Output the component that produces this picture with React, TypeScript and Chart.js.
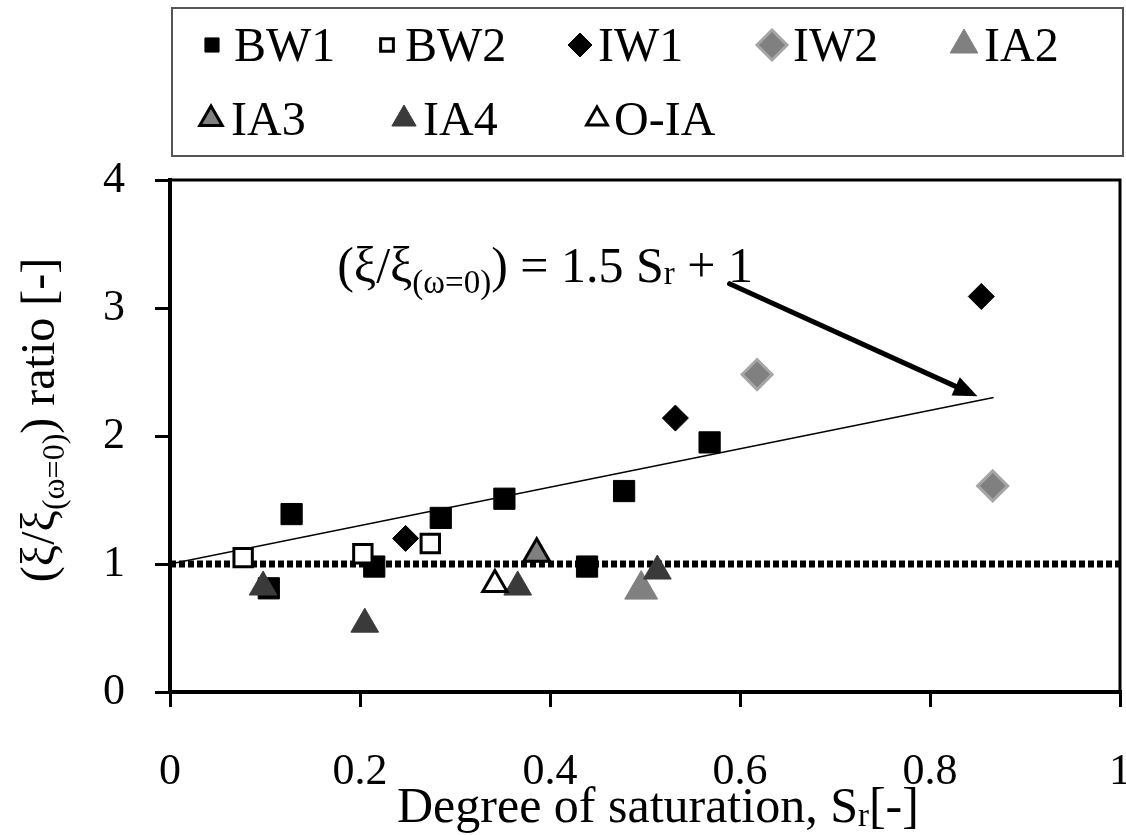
import React, { useEffect, useRef } from "react";
import { Chart, registerables } from "chart.js";

Chart.register(...registerables);

// ---- data ----
const bw1X = [0.104, 0.128, 0.215, 0.285, 0.352, 0.439, 0.478, 0.568];
const bw1Y = [0.81, 1.39, 0.98, 1.36, 1.51, 0.98, 1.57, 1.95];
const bw2X = [0.077, 0.203, 0.274];
const bw2Y = [1.05, 1.08, 1.16];
const iw1X = [0.248, 0.532, 0.854];
const iw1Y = [1.2, 2.14, 3.09];
const iw2X = [0.618, 0.866];
const iw2Y = [2.48, 1.61];
const ia2X = [0.496];
const ia2Y = [0.8];
const ia3X = [0.386];
const ia3Y = [1.08];
const ia4X = [0.098, 0.205, 0.366, 0.513];
const ia4Y = [0.82, 0.53, 0.82, 0.945];
const oiaX = [0.342];
const oiaY = [0.84];

// fitted line (ξ/ξ(ω=0)) = 1.5 Sr + 1 and the unit ratio line
const fitX = [0, 0.867];
const fitY = [1, 2.3];
const unitX = [0, 1];
const unitY = [1, 1];

const xTicks = [0, 0.2, 0.4, 0.6, 0.8, 1];
const yTicks = [0, 1, 2, 3, 4];

// arrow pointing from the equation to the fitted line
const arrowFrom = { x: 0.589, y: 3.19 };
const arrowTo = { x: 0.85, y: 2.31 };
const eqAnchor = { x: 0.176, y: 3.2 };

const SERIF = '"Liberation Serif", "Times New Roman", serif';

const pts = (xs: number[], ys: number[]) => xs.map((x, i) => ({ x, y: ys[i] }));

type Sty = {
  label: string;
  shape: "rect" | "rectRot" | "triangle";
  fill: string;
  stroke: string;
  bw: number;
  r: number;
  lr: number;
};

const styles: Sty[] = [
  { label: "BW1", shape: "rect", fill: "#000000", stroke: "#000000", bw: 1, r: 15, lr: 10 },
  { label: "BW2", shape: "rect", fill: "#ffffff", stroke: "#000000", bw: 3, r: 13, lr: 9 },
  { label: "IW1", shape: "rectRot", fill: "#000000", stroke: "#000000", bw: 1, r: 13, lr: 12 },
  { label: "IW2", shape: "rectRot", fill: "#808080", stroke: "#a6a6a6", bw: 3, r: 15, lr: 15 },
  { label: "IA2", shape: "triangle", fill: "#808080", stroke: "#808080", bw: 1, r: 19, lr: 16 },
  { label: "IA3", shape: "triangle", fill: "#808080", stroke: "#000000", bw: 3, r: 15, lr: 13 },
  { label: "IA4", shape: "triangle", fill: "#3a3a3a", stroke: "#3a3a3a", bw: 1, r: 16, lr: 14 },
  { label: "O-IA", shape: "triangle", fill: "#ffffff", stroke: "#000000", bw: 3, r: 14, lr: 12 },
];

const seriesData = [
  pts(bw1X, bw1Y),
  pts(bw2X, bw2Y),
  pts(iw1X, iw1Y),
  pts(iw2X, iw2Y),
  pts(ia2X, ia2Y),
  pts(ia3X, ia3Y),
  pts(ia4X, ia4Y),
  pts(oiaX, oiaY),
];

// legend grid: [marker x, text x, row center y]
const legendPos = [
  [212, 234, 46],
  [387, 405, 46],
  [580, 598, 46],
  [772, 793, 46],
  [964, 984, 46],
  [211, 231, 120],
  [404, 423, 120],
  [597, 614, 120],
];

type Part = { t: string; size: number; dy?: number };

function richWidth(ctx: CanvasRenderingContext2D, parts: Part[]) {
  let w = 0;
  for (const p of parts) {
    ctx.font = `${p.size}px ${SERIF}`;
    w += ctx.measureText(p.t).width;
  }
  return w;
}

function drawRich(ctx: CanvasRenderingContext2D, parts: Part[], x: number, y: number) {
  let cx = x;
  ctx.textBaseline = "alphabetic";
  ctx.textAlign = "left";
  for (const p of parts) {
    ctx.font = `${p.size}px ${SERIF}`;
    ctx.fillText(p.t, cx, y + (p.dy || 0));
    cx += ctx.measureText(p.t).width;
  }
}

function drawMarker(ctx: CanvasRenderingContext2D, s: Sty, x: number, y: number, r: number) {
  ctx.save();
  ctx.beginPath();
  if (s.shape === "rect") {
    const h = r * Math.SQRT1_2;
    ctx.rect(x - h, y - h, 2 * h, 2 * h);
  } else if (s.shape === "rectRot") {
    ctx.moveTo(x, y - r);
    ctx.lineTo(x + r, y);
    ctx.lineTo(x, y + r);
    ctx.lineTo(x - r, y);
    ctx.closePath();
  } else {
    const a = (Math.PI * 2) / 3;
    ctx.moveTo(x, y - r);
    ctx.lineTo(x + Math.sin(a) * r, y - Math.cos(a) * r);
    ctx.lineTo(x + Math.sin(2 * a) * r, y - Math.cos(2 * a) * r);
    ctx.closePath();
  }
  ctx.fillStyle = s.fill;
  ctx.fill();
  ctx.lineWidth = s.bw;
  ctx.strokeStyle = s.stroke;
  ctx.lineJoin = "miter";
  ctx.stroke();
  ctx.restore();
}

const framePlugin = {
  id: "frame",
  afterDatasetsDraw(chart: any) {
    const { ctx, chartArea } = chart;
    ctx.save();
    ctx.strokeStyle = "#000";
    ctx.lineWidth = 3;
    ctx.beginPath();
    ctx.moveTo(chartArea.left, chartArea.top);
    ctx.lineTo(chartArea.right, chartArea.top);
    ctx.lineTo(chartArea.right, chartArea.bottom);
    ctx.stroke();
    ctx.restore();
  },
};

const legendPlugin = {
  id: "boxLegend",
  afterDraw(chart: any) {
    const ctx: CanvasRenderingContext2D = chart.ctx;
    ctx.save();
    ctx.strokeStyle = "#555";
    ctx.lineWidth = 2;
    ctx.strokeRect(172, 8, 951, 148);
    styles.forEach((s, i) => {
      const [mx, tx, cy] = legendPos[i];
      drawMarker(ctx, s, mx, cy - 1, s.lr);
      ctx.fillStyle = "#000";
      ctx.font = `48px ${SERIF}`;
      ctx.textAlign = "left";
      ctx.textBaseline = "middle";
      ctx.fillText(s.label, tx, cy + 2);
    });
    ctx.restore();
  },
};

const annotationPlugin = {
  id: "equation",
  afterDraw(chart: any) {
    const ctx: CanvasRenderingContext2D = chart.ctx;
    const xs = chart.scales.x;
    const ys = chart.scales.y;
    ctx.save();
    ctx.fillStyle = "#000";
    drawRich(
      ctx,
      [
        { t: "(ξ/ξ", size: 50 },
        { t: "(ω=0)", size: 33, dy: 11 },
        { t: ") = 1.5 S", size: 50 },
        { t: "r", size: 33, dy: 2 },
        { t: " + 1", size: 50 },
      ],
      xs.getPixelForValue(eqAnchor.x),
      ys.getPixelForValue(eqAnchor.y)
    );

    // arrow
    const x0 = xs.getPixelForValue(arrowFrom.x);
    const y0 = ys.getPixelForValue(arrowFrom.y);
    const x1 = xs.getPixelForValue(arrowTo.x);
    const y1 = ys.getPixelForValue(arrowTo.y);
    const ang = Math.atan2(y1 - y0, x1 - x0);
    const hl = 24;
    const hw = 10;
    const bx = x1 - Math.cos(ang) * hl;
    const by = y1 - Math.sin(ang) * hl;
    ctx.strokeStyle = "#000";
    ctx.lineWidth = 5;
    ctx.lineCap = "round";
    ctx.beginPath();
    ctx.moveTo(x0, y0);
    ctx.lineTo(bx, by);
    ctx.stroke();
    ctx.beginPath();
    ctx.moveTo(x1, y1);
    ctx.lineTo(bx + Math.sin(ang) * hw, by - Math.cos(ang) * hw);
    ctx.lineTo(bx - Math.sin(ang) * hw, by + Math.cos(ang) * hw);
    ctx.closePath();
    ctx.fill();
    ctx.restore();
  },
};

const titlesPlugin = {
  id: "axisTitles",
  afterDraw(chart: any) {
    const ctx: CanvasRenderingContext2D = chart.ctx;
    ctx.save();
    ctx.fillStyle = "#000";
    // x title
    const xParts: Part[] = [
      { t: "Degree of saturation, S", size: 50 },
      { t: "r", size: 33, dy: 4 },
      { t: "[-]", size: 50 },
    ];
    drawRich(ctx, xParts, 397, 822);
    // y title
    const yParts: Part[] = [
      { t: "(ξ/ξ", size: 48 },
      { t: "(ω=0)", size: 32, dy: 10 },
      { t: ") ratio [-]", size: 48 },
    ];
    const yw = richWidth(ctx, yParts);
    ctx.translate(54, 420);
    ctx.rotate(-Math.PI / 2);
    drawRich(ctx, yParts, -yw / 2, 0);
    ctx.restore();
  },
};

export default function App() {
  const ref = useRef<HTMLCanvasElement | null>(null);

  useEffect(() => {
    if (!ref.current) return;
    const tickFont = { family: SERIF, size: 44 };
    // later series are painted above earlier ones
    const datasets: any[] = styles.map((s, i) => ({
      label: s.label,
      data: seriesData[i],
      pointStyle: s.shape,
      pointRadius: s.r,
      pointHoverRadius: s.r,
      pointBackgroundColor: s.fill,
      pointBorderColor: s.stroke,
      pointBorderWidth: s.bw,
      showLine: false,
      order: styles.length - i,
    }));
    datasets.push({
      label: "fit",
      data: pts(fitX, fitY),
      showLine: true,
      borderColor: "#000",
      borderWidth: 1.5,
      pointRadius: 0,
      order: 20,
    });
    datasets.push({
      label: "unity",
      data: pts(unitX, unitY),
      showLine: true,
      borderColor: "#000",
      borderWidth: 7,
      borderDash: [6, 3],
      pointRadius: 0,
      order: 21,
    });

    const chart = new Chart(ref.current, {
      type: "scatter",
      data: { datasets },
      options: {
        animation: false,
        responsive: false,
        devicePixelRatio: 1,
        events: [],
        layout: { autoPadding: false, padding: { top: 180, right: 6, left: 0, bottom: 0 } },
        plugins: { legend: { display: false }, tooltip: { enabled: false } },
        scales: {
          x: {
            type: "linear",
            min: 0,
            max: 1,
            afterBuildTicks: (s: any) => {
              s.ticks = xTicks.map((v) => ({ value: v }));
            },
            ticks: {
              font: tickFont,
              color: "#000",
              padding: 39,
              maxRotation: 0,
              autoSkip: false,
              callback: (v: any) => String(Math.round(Number(v) * 10) / 10),
            },
            grid: { drawOnChartArea: false, tickLength: 15, lineWidth: 3, color: "#000" },
            border: { width: 4, color: "#000" },
            afterFit: (s: any) => {
              s.height = 835 - 692;
              s.paddingLeft = 0;
              s.paddingRight = 0;
            },
          },
          y: {
            type: "linear",
            min: 0,
            max: 4,
            afterBuildTicks: (s: any) => {
              s.ticks = yTicks.map((v) => ({ value: v }));
            },
            ticks: { font: tickFont, color: "#000", padding: 30, autoSkip: false },
            grid: { drawOnChartArea: false, tickLength: 15, lineWidth: 3, color: "#000" },
            border: { width: 4, color: "#000" },
            afterFit: (s: any) => {
              s.width = 170;
              s.paddingTop = 0;
              s.paddingBottom = 0;
            },
          },
        },
      } as any,
      plugins: [framePlugin, legendPlugin, annotationPlugin, titlesPlugin],
    });
    return () => chart.destroy();
  }, []);

  return (
    <div style={{ position: "fixed", left: 0, top: 0, width: 1126, height: 835, background: "#fff" }}>
      <canvas ref={ref} width={1126} height={835} style={{ display: "block" }} />
    </div>
  );
}
